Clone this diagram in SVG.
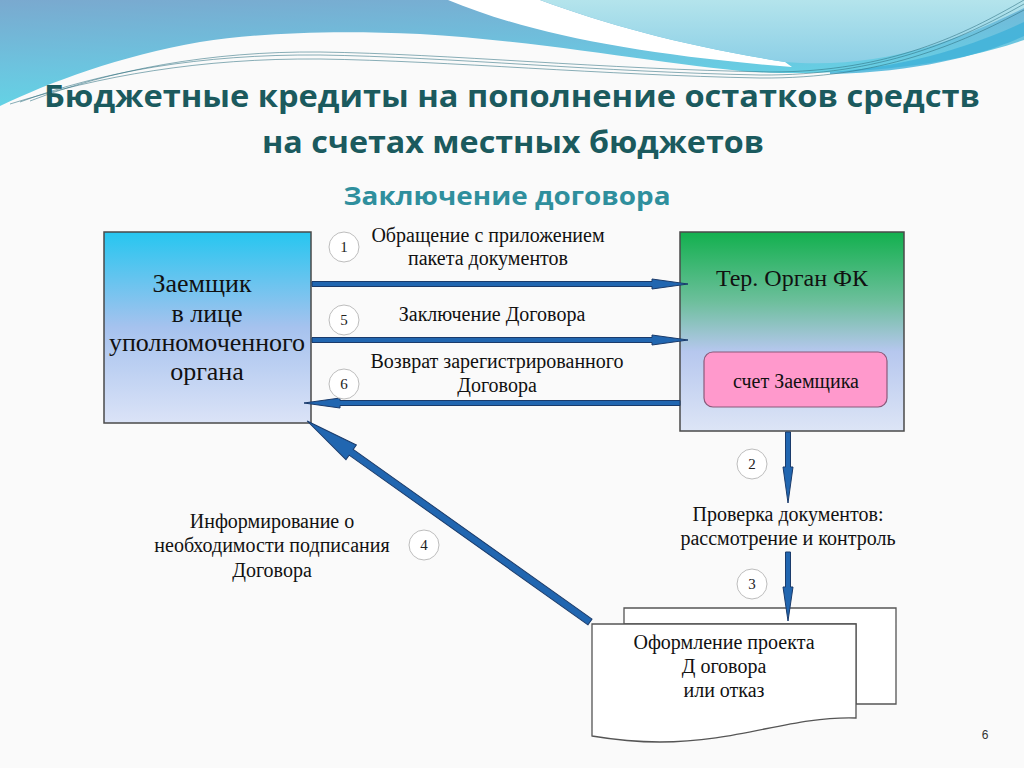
<svg xmlns="http://www.w3.org/2000/svg" width="1024" height="768" viewBox="0 0 1024 768">
<defs>
  <linearGradient id="gBlue" x1="0" y1="0" x2="0.3" y2="1">
    <stop offset="0" stop-color="#7aa9cf"/>
    <stop offset="0.6" stop-color="#6cc4df"/>
    <stop offset="1" stop-color="#62d6e6"/>
  </linearGradient>
  <linearGradient id="gRight" x1="0" y1="0" x2="0" y2="1">
    <stop offset="0" stop-color="#b4e4ec"/>
    <stop offset="1" stop-color="#8ccfe6"/>
  </linearGradient>
  <linearGradient id="gLeftBox" x1="0" y1="0" x2="0" y2="1">
    <stop offset="0" stop-color="#26c6f0"/>
    <stop offset="0.5" stop-color="#a6c2ee"/>
    <stop offset="1" stop-color="#dbe3f7"/>
  </linearGradient>
  <linearGradient id="gRightBox" x1="0" y1="0" x2="0" y2="1">
    <stop offset="0" stop-color="#12b04e"/>
    <stop offset="0.35" stop-color="#6dbf9c"/>
    <stop offset="0.6" stop-color="#b6c7ee"/>
    <stop offset="1" stop-color="#dde5f6"/>
  </linearGradient>
  <style>
    .title{font-family:"Open Sans","Liberation Sans",sans-serif;font-weight:bold;fill:#1b5a5e;text-anchor:middle}
    .sub{font-family:"Open Sans","Liberation Sans",sans-serif;font-weight:bold;fill:#2f8f9d;text-anchor:middle}
    .t{font-family:"Liberation Serif","Times New Roman",serif;fill:#111;text-anchor:middle}
    .box{stroke:#4a4a4a;stroke-width:1.5}
    .arr{fill:#2166b0;stroke:#1a3b6b;stroke-width:1}
    .num{fill:#fff;stroke:#bdbdbd;stroke-width:1}
    .numt{font-family:"Liberation Serif","Times New Roman",serif;font-size:15px;fill:#222;text-anchor:middle}
    .doc{fill:#fff;stroke:#555;stroke-width:1.3}
    .ln{fill:none;stroke:#2c6f80;stroke-width:0.8;opacity:0.7}
  </style>
</defs>

<!-- background -->
<rect width="1024" height="768" fill="#fafafa"/>
<path d="M0,0 H1024 V40 C960,62 880,74 780,73 C700,72 560,42 420,34 C330,30 260,33 200,42 C120,56 50,82 0,106 Z" fill="url(#gBlue)"/>
<path d="M448,0 C530,34 640,55 792,67 L785,62 C690,47 610,26 540,0 Z" fill="#ffffff"/>
<path d="M540,0 C610,26 690,47 785,62 C880,70 960,40 1024,8 V0 Z" fill="url(#gRight)"/>
<path d="M830,72 C920,66 985,40 1024,22 V36 C985,54 920,72 830,74 Z" fill="#3fb0d8" opacity="0.8"/>
<path class="ln" d="M20,102 C100,72 200,54 320,55 C450,57 600,72 760,75 C880,76 960,40 1024,4"/>
<path class="ln" d="M10,104 C100,76 200,58 320,59 C450,61 600,75 760,78 C880,79 960,44 1024,10"/>
<path class="ln" d="M30,101 C110,70 210,51 320,52 C450,54 600,69 770,72 C890,72 965,34 1024,0"/>

<!-- titles -->
<text class="title" x="512" y="107" font-size="31" textLength="936" lengthAdjust="spacingAndGlyphs">Бюджетные кредиты на пополнение остатков средств</text>
<text class="title" x="513" y="153" font-size="31" textLength="502" lengthAdjust="spacingAndGlyphs">на счетах местных бюджетов</text>
<text class="sub" x="507" y="205" font-size="25" textLength="327" lengthAdjust="spacingAndGlyphs">Заключение договора</text>

<!-- nodes -->
<g id="borrower">
  <rect class="box" x="104" y="232" width="207" height="191" fill="url(#gLeftBox)"/>
  <text class="t" font-size="26" x="202" y="292">Заемщик</text>
  <text class="t" font-size="26" x="207" y="322">в лице</text>
  <text class="t" font-size="26" x="207" y="351">уполномоченного</text>
  <text class="t" font-size="26" x="207" y="380">органа</text>
</g>

<g id="fk">
  <rect class="box" x="680" y="232" width="224" height="199" fill="url(#gRightBox)"/>
  <text class="t" font-size="24" x="792" y="286">Тер. Орган ФК</text>
</g>

<g id="account">
  <rect x="704" y="352" width="183" height="55" rx="9" fill="#ff99cc" stroke="#8a5a7a" stroke-width="1.2"/>
  <text class="t" font-size="20" x="796" y="388">счет Заемщика</text>
</g>

<g id="check">
  <text class="t" font-size="20" x="788" y="521">Проверка документов:</text>
  <text class="t" font-size="20" x="788" y="545">рассмотрение и контроль</text>
</g>

<g id="draft">
  <path class="doc" d="M624,608 H896 V704 H856 V624 H624 Z"/>
  <path class="doc" d="M592,624 H856 V718 C790,716 740,742 660,742 C630,742 610,739 592,736 Z"/>
  <text class="t" font-size="20" x="724" y="649">Оформление проекта</text>
  <text class="t" font-size="20" x="724" y="673">Д оговора</text>
  <text class="t" font-size="20" x="724" y="697">или отказ</text>
</g>

<g id="inform">
  <text class="t" font-size="20" x="272" y="528">Информирование о</text>
  <text class="t" font-size="20" x="272" y="552">необходимости подписания</text>
  <text class="t" font-size="20" x="272" y="577">Договора</text>
</g>

<!-- connectors -->
<g id="connectors">
  <polygon class="arr" points="312,281.5 652,281.5 652,279 688,284 652,289 652,286.5 312,286.5"/>
  <polygon class="arr" points="312,337.5 652,337.5 652,335 688,340 652,345 652,342.5 312,342.5"/>
  <polygon class="arr" points="680,400.5 340,400.5 340,398 304,403 340,408 340,405.5 680,405.5"/>
  <polygon class="arr" points="785.5,432 790.5,432 790.5,467 793,467 788,503 783,467 785.5,467"/>
  <polygon class="arr" points="785.5,552 790.5,552 790.5,587 793,587 788,621 783,587 785.5,587"/>
  <g transform="translate(590,622) rotate(-144.6)">
    <polygon class="arr" points="0,-3.5 293,-3.5 293,-9 347,0 293,9 293,3.5 0,3.5"/>
  </g>
</g>

<!-- step numbers and labels -->
<g id="labels">
  <circle class="num" cx="344" cy="247" r="15"/><text class="numt" x="344" y="252">1</text>
  <circle class="num" cx="344" cy="320" r="15"/><text class="numt" x="344" y="325">5</text>
  <circle class="num" cx="344" cy="384" r="15"/><text class="numt" x="344" y="389">6</text>
  <circle class="num" cx="752" cy="464" r="15"/><text class="numt" x="752" y="469">2</text>
  <circle class="num" cx="752" cy="584" r="15"/><text class="numt" x="752" y="589">3</text>
  <circle class="num" cx="424" cy="545" r="15"/><text class="numt" x="424" y="550">4</text>
  <text class="t" font-size="20" x="488" y="242">Обращение с приложением</text>
  <text class="t" font-size="20" x="488" y="265">пакета документов</text>
  <text class="t" font-size="20" x="492" y="321">Заключение Договора</text>
  <text class="t" font-size="20" x="497" y="368">Возврат зарегистрированного</text>
  <text class="t" font-size="20" x="497" y="392">Договора</text>
</g>

<text x="985" y="739" font-family="Liberation Sans,sans-serif" font-size="12" fill="#333" text-anchor="middle">6</text>
</svg>
